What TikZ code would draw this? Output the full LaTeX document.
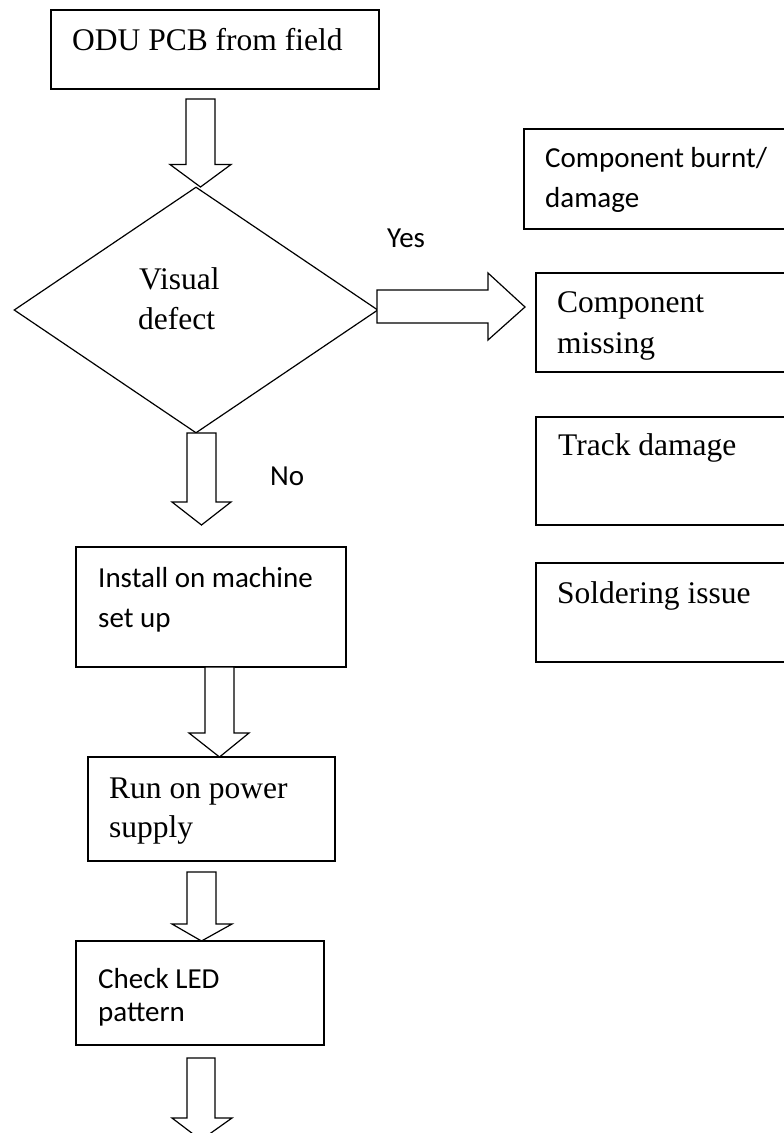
\documentclass[tikz,border=0pt]{standalone}
\usepackage{fontspec}
\setmainfont{Liberation Serif}
\newfontfamily\calfont{Carlito}
\usetikzlibrary{shapes.geometric}
\tikzset{
  box/.style={draw, line width=1.2pt, inner sep=0pt, outer sep=0pt, anchor=north west},
  blk/.style={draw, line width=1.2pt, line join=miter, fill=white},
  ser/.style={anchor=base west, inner sep=0pt, font=\fontsize{31.5}{38}\selectfont},
  cal/.style={anchor=base west, inner sep=0pt, font=\calfont\fontsize{29}{35}\selectfont},
}
\begin{document}
\begin{tikzpicture}[x=1pt,y=-1pt]
\useasboundingbox (0,0) rectangle (784,1133);
\fill[white] (0,0) rectangle (784,1133);

% left column boxes
\node[box, minimum width=328pt, minimum height=79pt] (start) at (51,10) {};
\node[ser] (tstart) at (72,50) {ODU PCB from field};

\node[draw, diamond, line width=1.2pt, inner sep=0pt, minimum width=364pt, minimum height=246pt] (dec) at (196,310) {};
\node[ser] (tdec1) at (139,289) {Visual};
\node[ser] (tdec2) at (138,329) {defect};

\node[box, minimum width=270pt, minimum height=120pt] (inst) at (76,547) {};
\node[cal] (tinst1) at (98,587) {Install on machine};
\node[cal] (tinst2) at (98,627) {set up};

\node[box, minimum width=247pt, minimum height=104pt] (run) at (88,757) {};
\node[ser] (trun1) at (109,798) {Run on power};
\node[ser] (trun2) at (109,837) {supply};

\node[box, minimum width=248pt, minimum height=104pt] (led) at (76,941) {};
\node[cal] (tled1) at (98,988) {Check LED};
\node[cal] (tled2) at (98,1021) {pattern};

% right column boxes (run off the right edge)
\node[box, minimum width=280pt, minimum height=100pt] (burnt) at (524,129) {};
\node[cal] (tburnt1) at (545,167) {Component burnt/};
\node[cal] (tburnt2) at (545,207) {damage};

\node[box, minimum width=270pt, minimum height=99pt] (miss) at (536,273) {};
\node[ser] (tmiss1) at (557,312) {Component};
\node[ser] (tmiss2) at (557,353) {missing};

\node[box, minimum width=270pt, minimum height=108pt] (track) at (536,417) {};
\node[ser] (ttrack) at (558,455) {Track damage};

\node[box, minimum width=270pt, minimum height=99pt] (solder) at (536,563) {};
\node[ser] (tsolder) at (557,603) {Soldering issue};

% labels
\node[cal] (yes) at (387,247) {Yes};
\node[cal] (no) at (270,485) {No};

% block arrows
\draw[blk] (186,99) -- (215,99) -- (215,164.5) -- (231,164.5) -- (200.5,187) -- (170,164.5) -- (186,164.5) -- cycle;
\draw[blk] (187,433) -- (216,433) -- (216,502) -- (231,502) -- (201.5,525) -- (172,502) -- (187,502) -- cycle;
\draw[blk] (205,667) -- (234,667) -- (234,733) -- (249,733) -- (219.5,757) -- (189,733) -- (205,733) -- cycle;
\draw[blk] (187,872) -- (216,872) -- (216,924) -- (232,924) -- (201.5,941) -- (172,924) -- (187,924) -- cycle;
\draw[blk] (187,1058) -- (215,1058) -- (215,1118) -- (232,1118) -- (201,1140) -- (172,1118) -- (187,1118) -- cycle;
\draw[blk] (377,290) -- (488,290) -- (488,273) -- (525,307) -- (488,340) -- (488,323) -- (377,323) -- cycle;
\end{tikzpicture}
\end{document}
